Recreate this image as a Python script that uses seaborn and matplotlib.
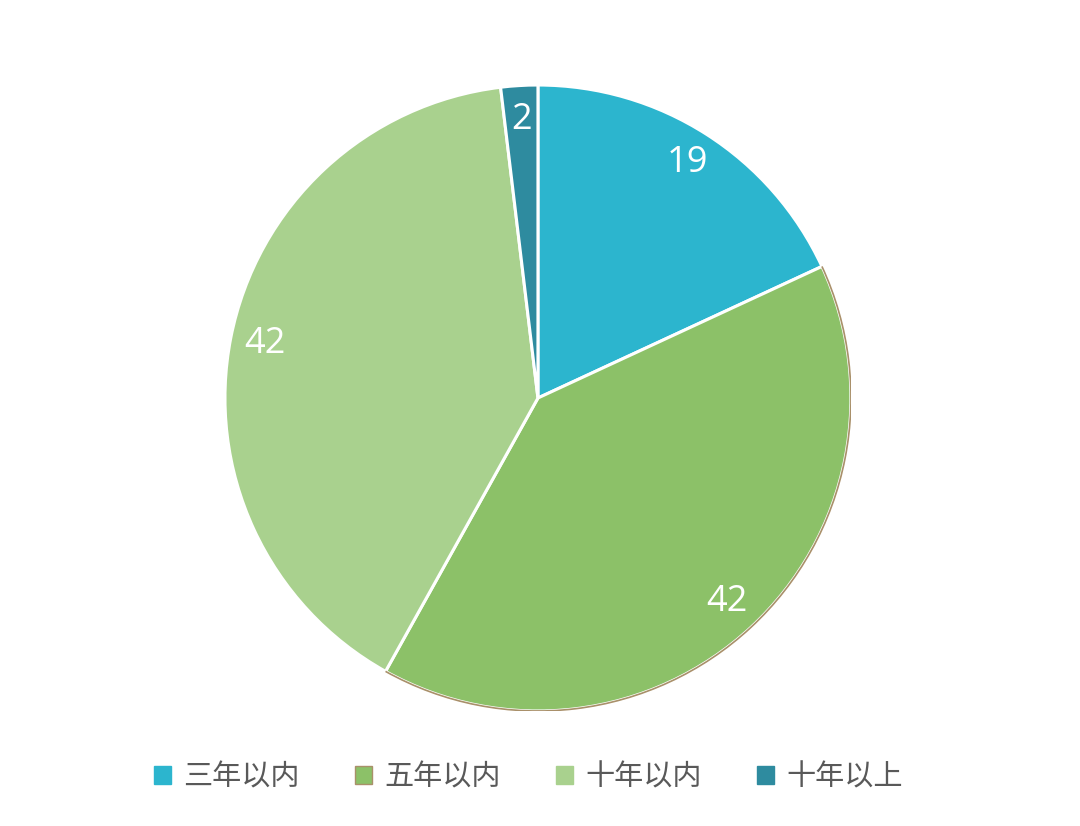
import numpy as np
import pandas as pd
import matplotlib.pyplot as plt
import seaborn as sns
from matplotlib.patches import Patch, Arc

# data
categories = ['三年以内', '五年以内', '十年以内', '十年以上']
counts = [19, 42, 42, 2]
colors = ['#2CB5CE', '#8CC168', '#A9D18E', '#2E8B9F']

df = pd.DataFrame({'category': categories, 'count': counts})

sns.set_theme(style="white")
plt.rcParams['font.family'] = ['Noto Sans CJK SC', 'DejaVu Sans']
palette = sns.color_palette(colors)

fig = plt.figure(figsize=(10.8, 8.26), dpi=100)
ax = fig.add_axes([0.2083, 0.1392, 0.5796, 0.7579])

wedges, texts, autotexts = ax.pie(
    df['count'], colors=palette, startangle=90, counterclock=False,
    autopct=lambda p: '{:.0f}'.format(p * df['count'].sum() / 100),
    pctdistance=0.89, radius=1.0,
    wedgeprops=dict(edgecolor='white', linewidth=2.2),
    textprops=dict(color='white', fontsize=26, family=['Open Sans', 'DejaVu Sans']))

# thin brownish outer rim on the second slice
w = wedges[1]
ax.add_patch(Arc((0, 0), 2.0, 2.0, theta1=w.theta1, theta2=w.theta2,
                 color='#A9906A', linewidth=1.2, zorder=3))

ax.set_xlim(-1.0, 1.0)
ax.set_ylim(-1.0, 1.0)
ax.set_aspect('equal')
ax.axis('off')

handles = [Patch(facecolor=c, edgecolor=('#A9906A' if i == 1 else c), linewidth=1)
           for i, c in enumerate(colors)]
leg = fig.legend(handles, categories, loc='center', bbox_to_anchor=(0.489, 0.059),
                 ncol=4, frameon=False, fontsize=21, handlelength=0.6, handleheight=0.6,
                 handletextpad=0.4, columnspacing=1.9)
for t in leg.get_texts():
    t.set_color('#595959')

fig.savefig('out.png', dpi=100, facecolor='white')
